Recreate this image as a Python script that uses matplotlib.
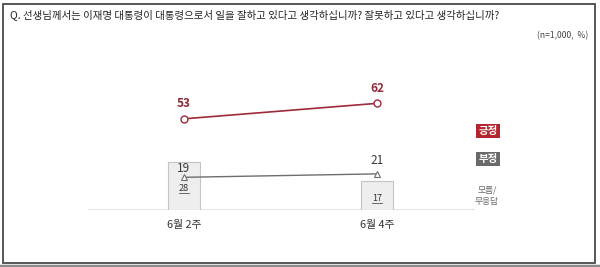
import matplotlib
matplotlib.use("Agg")
import matplotlib.pyplot as plt
from matplotlib.patches import Rectangle

plt.rcParams['font.family'] = ['Noto Sans CJK KR', 'DejaVu Sans']

categories = ['6월 2주', '6월 4주']
positive = [53, 62]
negative = [19, 21]
unknown = [28, 17]
title = 'Q. 선생님께서는 이재명 대통령이 대통령으로서 일을 잘하고 있다고 생각하십니까? 잘못하고 있다고 생각하십니까?'
note = '(n=1,000,  %)'
legend_pos = '긍정'
legend_neg = '부정'
legend_unk = '모름/\n무응답'

RED = '#9e2a3a'
GRAY = '#6e6e6e'

fig = plt.figure(figsize=(6, 2.67), dpi=100)
W, H = 600, 267

# frame
fig.patches.append(Rectangle((3 / W, 4 / H), 592 / W, 259 / H, transform=fig.transFigure,
                             fill=False, edgecolor='#4a4a4a', linewidth=1.3))
fig.add_artist(plt.Line2D([0, 1], [1.5 / H, 1.5 / H], transform=fig.transFigure,
                          color='#8a8a8a', linewidth=2.5))

fig.text(10 / W, 1 - 15 / H, title, fontsize=7.5, color='#222222', va='center', ha='left')
fig.text(588 / W, 1 - 36 / H, note, fontsize=6.2, color='#444444', va='center', ha='right')

ax = fig.add_axes([88 / W, (H - 210) / H, 387 / W, 150 / H])
ax.set_xlim(-0.497, 1.508)
ax.set_ylim(0, 87.2)
for s in ax.spines.values():
    s.set_visible(False)
ax.set_yticks([])
x = list(range(len(categories)))
ax.set_xticks(x)
ax.set_xticklabels(categories, fontsize=7.8, color='#333333')
ax.tick_params(axis='x', length=0, pad=7)
ax.axhline(0, color='#e0e0e0', linewidth=2, zorder=1)

ax.bar(x, unknown, width=0.166, color='#eeeeee', edgecolor='#c4c4c4', linewidth=0.8, zorder=2)
for xi, v in zip(x, unknown):
    ax.annotate(str(v), (xi, v / 2), xytext=(0, -3), textcoords='offset pixels',
                ha='center', va='center', fontsize=6.5, style='italic', color='#333333', zorder=5)
    ax.plot([xi - 0.028, xi + 0.028], [v / 2 - 4.2, v / 2 - 4.2], color='#333333', lw=0.5, zorder=5)

ax.plot(x, positive, color=RED, linewidth=1.2, marker='o', markersize=5,
        markerfacecolor='white', markeredgecolor=RED, markeredgewidth=1.0, zorder=4)
ax.plot(x, negative, color=GRAY, linewidth=1.0, marker='^', markersize=5,
        markerfacecolor='white', markeredgecolor=GRAY, markeredgewidth=0.8, zorder=4)

for xi, v in zip(x, positive):
    ax.annotate(str(v), (xi, v), xytext=(0, 15), textcoords='offset pixels', ha='center',
                va='center', fontsize=8.5, fontweight='bold', color='#8a2a38', zorder=5)
neg_off = [9, 13]
for xi, v, o in zip(x, negative, neg_off):
    ax.annotate(str(v), (xi, v), xytext=(0, o), textcoords='offset pixels', ha='center',
                va='center', fontsize=8.5, color='#3a3a3a', zorder=5)

fig.text(488 / W, 1 - 131 / H, legend_pos, fontsize=7.5, fontweight='bold', color='white',
         ha='center', va='center',
         bbox=dict(boxstyle='square,pad=0.22', facecolor='#b3262f', edgecolor='none'))
fig.text(488 / W, 1 - 159 / H, legend_neg, fontsize=7.5, fontweight='bold', color='white',
         ha='center', va='center',
         bbox=dict(boxstyle='square,pad=0.22', facecolor='#6a6a6a', edgecolor='none'))
fig.text(487 / W, 1 - 196 / H, legend_unk, fontsize=6.3, color='#666666', ha='center',
         va='center', linespacing=1.3)

fig.savefig('out.png', dpi=100)
